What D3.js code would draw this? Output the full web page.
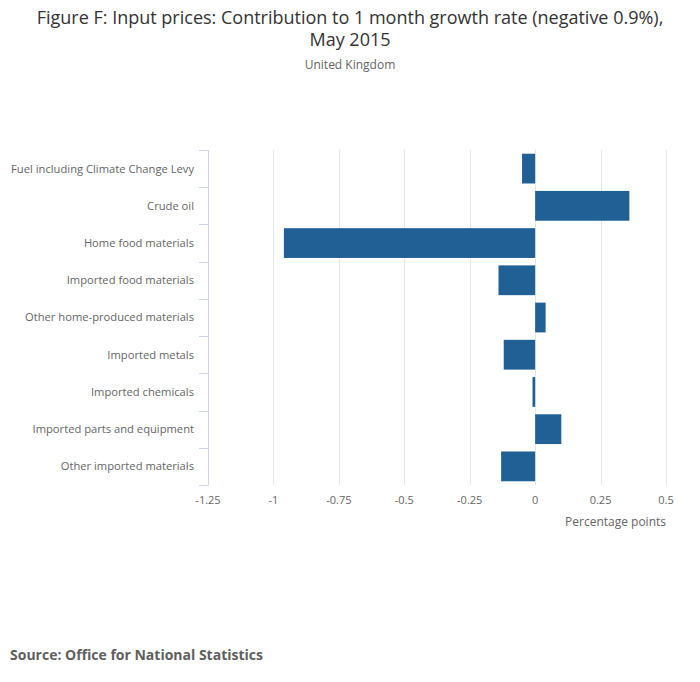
<!DOCTYPE html>
<html>
<head>
<meta charset="utf-8">
<script src="https://cdn.jsdelivr.net/npm/d3@7"></script>
<style>
  body { margin: 0; background: #fff; }
  svg { display: block; overflow: visible; }
  text { font-family: "Open Sans", sans-serif; }
</style>
</head>
<body>
<div id="chart"></div>
<script>
const categories = [
  "Fuel including Climate Change Levy",
  "Crude oil",
  "Home food materials",
  "Imported food materials",
  "Other home-produced materials",
  "Imported metals",
  "Imported chemicals",
  "Imported parts and equipment",
  "Other imported materials"
];
const contributions = [-0.05, 0.36, -0.96, -0.14, 0.04, -0.12, -0.01, 0.10, -0.13];
const xTicks = [-1.25, -1, -0.75, -0.5, -0.25, 0, 0.25, 0.5];

const width = 700;
const height = 682;
const margin = { top: 150, right: 34, bottom: 197, left: 208 };
const innerWidth = width - margin.left - margin.right;
const innerHeight = height - margin.top - margin.bottom;

const svg = d3.select("#chart")
  .append("svg")
  .attr("width", width)
  .attr("height", height);

svg.append("text")
  .attr("x", width / 2)
  .attr("y", 24)
  .attr("text-anchor", "middle")
  .attr("fill", "#333")
  .attr("font-size", 18)
  .text("Figure F: Input prices: Contribution to 1 month growth rate (negative 0.9%),");

svg.append("text")
  .attr("x", width / 2)
  .attr("y", 46)
  .attr("text-anchor", "middle")
  .attr("fill", "#333")
  .attr("font-size", 18)
  .text("May 2015");

svg.append("text")
  .attr("x", width / 2)
  .attr("y", 69)
  .attr("text-anchor", "middle")
  .attr("fill", "#666")
  .attr("font-size", 12)
  .text("United Kingdom");

const chart = svg.append("g")
  .attr("transform", `translate(${margin.left},${margin.top})`);

const x = d3.scaleLinear()
  .domain([-1.25, 0.5])
  .range([0, innerWidth]);

const y = d3.scaleBand()
  .domain(categories)
  .range([0, innerHeight])
  .paddingInner(0.2)
  .paddingOuter(0.1);

// vertical grid lines
chart.append("g")
  .selectAll("line")
  .data(xTicks)
  .enter()
  .append("line")
  .attr("x1", (d) => Math.round(x(d)) + 0.5)
  .attr("x2", (d) => Math.round(x(d)) + 0.5)
  .attr("y1", 0)
  .attr("y2", innerHeight)
  .attr("stroke", "#e6e6e6")
  .attr("stroke-width", 1);

chart.selectAll("rect.bar")
  .data(categories)
  .enter()
  .append("rect")
  .attr("class", "bar")
  .attr("x", (d, i) => x(Math.min(0, contributions[i])))
  .attr("y", (d) => y(d))
  .attr("width", (d, i) => Math.abs(x(contributions[i]) - x(0)))
  .attr("height", y.bandwidth())
  .attr("fill", "#206095");

// category axis
const yAxis = chart.append("g");
yAxis.append("line")
  .attr("x1", 0.5)
  .attr("x2", 0.5)
  .attr("y1", 0)
  .attr("y2", innerHeight)
  .attr("stroke", "#ccd6eb");

const step = innerHeight / categories.length;
yAxis.selectAll("line.tick")
  .data(d3.range(categories.length + 1))
  .enter()
  .append("line")
  .attr("class", "tick")
  .attr("x1", -9)
  .attr("x2", 0.5)
  .attr("y1", (d) => Math.round(d * step) + 0.5)
  .attr("y2", (d) => Math.round(d * step) + 0.5)
  .attr("stroke", "#ccd6eb");

yAxis.selectAll("text")
  .data(categories)
  .enter()
  .append("text")
  .attr("x", -14)
  .attr("y", (d) => y(d) + y.bandwidth() / 2)
  .attr("dy", "0.35em")
  .attr("text-anchor", "end")
  .attr("fill", "#666")
  .attr("font-size", 11.2)
  .text((d) => d);

// value axis labels
chart.append("g")
  .selectAll("text")
  .data(xTicks)
  .enter()
  .append("text")
  .attr("x", (d) => x(d))
  .attr("y", innerHeight + 19)
  .attr("text-anchor", "middle")
  .attr("fill", "#666")
  .attr("font-size", 11)
  .text((d) => d);

chart.append("text")
  .attr("x", x(0.5))
  .attr("y", innerHeight + 41)
  .attr("text-anchor", "end")
  .attr("fill", "#666")
  .attr("font-size", 12)
  .text("Percentage points");

svg.append("text")
  .attr("x", 10)
  .attr("y", 660)
  .attr("fill", "#5f5f5f")
  .attr("font-size", 14)
  .attr("font-weight", 700)
  .text("Source: Office for National Statistics");
</script>
</body>
</html>
